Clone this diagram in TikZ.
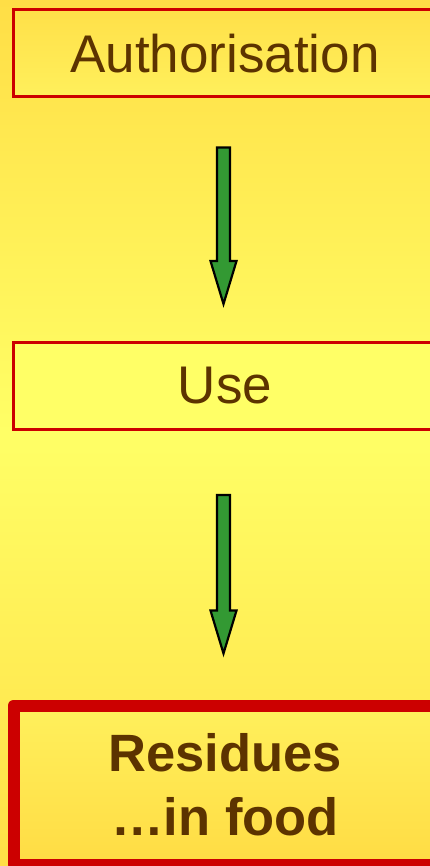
\documentclass[tikz,border=0pt]{standalone}
\usepackage{fontspec}
\setmainfont{Liberation Sans}
\usetikzlibrary{calc}
\definecolor{bgedge}{HTML}{FFDE46}
\definecolor{bgmid}{HTML}{FFFF66}
\definecolor{boxred}{HTML}{CC0000}
\definecolor{txtbrown}{HTML}{5C3300}
\definecolor{arrgreen}{HTML}{339933}
\definecolor{boxlight}{HTML}{FFF05C}
\definecolor{boxdark}{HTML}{FFDC44}

\tikzset{
  stagebox/.style={draw=boxred, line width=3pt, rectangle, inner sep=0pt,
    minimum width=423pt, minimum height=87pt, text=txtbrown,
    font=\fontsize{53}{60}\selectfont},
  finalbox/.style={draw=boxred, line width=12pt, line join=round, rectangle,
    inner sep=0pt, minimum width=423pt, minimum height=159pt, text=txtbrown,
    align=center, font=\fontsize{52.5}{64}\selectfont\bfseries,
    top color=boxlight, bottom color=boxdark},
  flowarrow/.style={draw=black, line width=2.2pt, fill=arrgreen, line join=miter}
}

% block arrow from #1 (top of shaft) to #2 (tip)
\newcommand{\blockarrow}[2]{%
  \draw[flowarrow]
    ($(#1)+(-6.5,0)$) -- ($(#1)+(6.5,0)$) -- ($(#2)+(6.5,-43)$) --
    ($(#2)+(13,-43)$) -- (#2) -- ($(#2)+(-13,-43)$) --
    ($(#2)+(-6.5,-43)$) -- cycle;}

\begin{document}
\begin{tikzpicture}[x=1pt,y=-1pt]
  \useasboundingbox (0,0) rectangle (430,866);
  \clip (0,0) rectangle (430,866);
  % background
  \shade[top color=bgedge, bottom color=bgedge, middle color=bgmid]
    (0,0) rectangle (430,866);

  % the three stages
  \node[stagebox, top color=boxdark!80!boxlight, bottom color=boxlight]
    (auth) at (225,53.5) {Authorisation};
  \node[stagebox, fill=bgmid] (use) at (225,386) {Use};
  \node[finalbox] (res) at (225,785) {Residues\\…in food};

  % connectors
  \coordinate (a1s) at ($(auth.south)+(-1.5,49)$);
  \coordinate (a1e) at ($(use.north)+(-1.5,-37)$);
  \coordinate (a2s) at ($(use.south)+(-1.5,64)$);
  \coordinate (a2e) at ($(res.north)+(-1.5,-46)$);
  \blockarrow{a1s}{a1e}
  \blockarrow{a2s}{a2e}
\end{tikzpicture}
\end{document}
